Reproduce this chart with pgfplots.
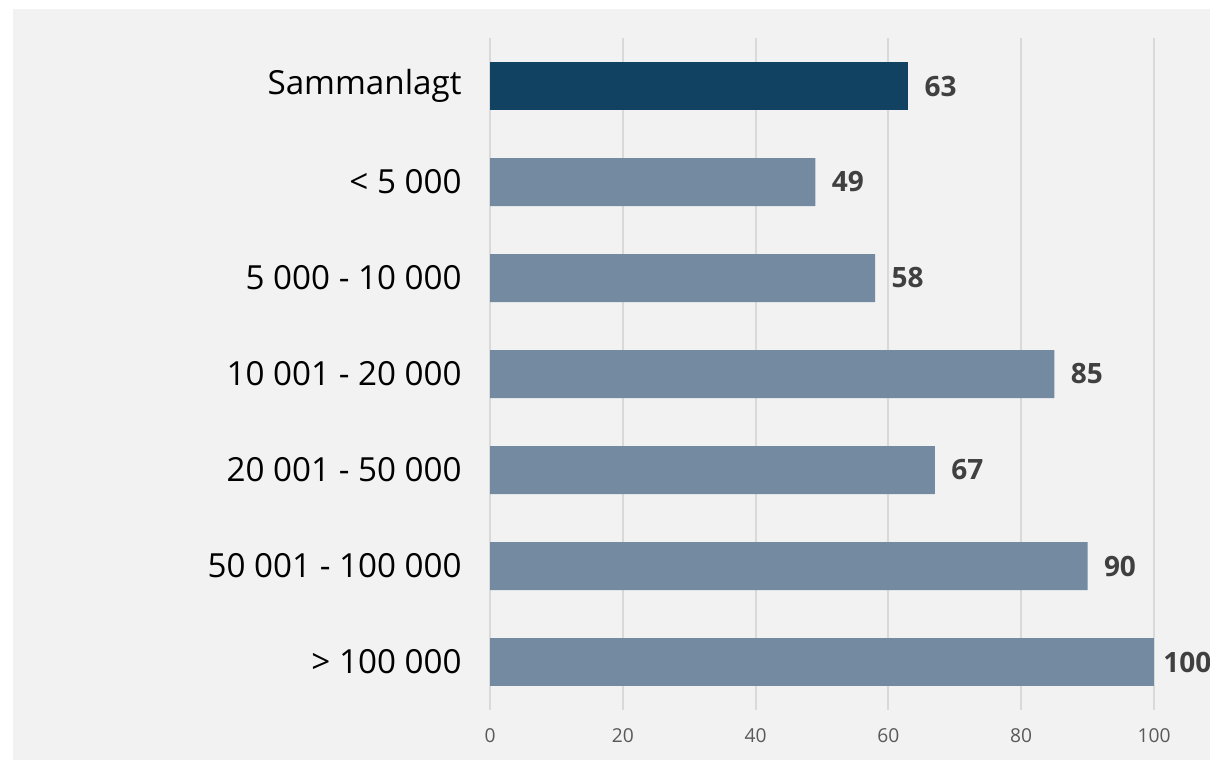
\documentclass[border=0pt]{standalone}
\usepackage{pgfplots}
\pgfplotsset{compat=1.18}
\usepackage{fontspec}
\setmainfont{Open Sans}
\definecolor{bgc}{HTML}{F2F2F2}
\definecolor{bardark}{HTML}{124261}
\definecolor{barlight}{HTML}{738AA0}
\definecolor{gridc}{HTML}{D9D9D9}
\definecolor{valc}{HTML}{404040}
\definecolor{tickc}{HTML}{595959}

\begin{document}
\begin{tikzpicture}
\useasboundingbox (0,0) rectangle (605pt,-380pt);
\clip (0,0) rectangle (605pt,-380pt);
\fill[bgc] (6.5pt,-4.5pt) rectangle (605pt,-380pt);
\begin{axis}[
    at={(245pt,-19pt)}, anchor=north west,
    scale only axis, width=332pt, height=336pt,
    xbar, bar width=24pt,
    xmin=0, xmax=100, ymin=-0.5, ymax=6.5, y dir=reverse,
    xtick={0,20,...,100}, ytick={0,...,6},
    yticklabels={Sammanlagt, {< 5 000}, {5 000 - 10 000}, {10 001 - 20 000},
                 {20 001 - 50 000}, {50 001 - 100 000}, {> 100 000}},
    /pgf/number format/assume math mode=true,
    axis line style={draw=none},
    major tick length=0pt,
    xmajorgrids, grid style={gridc, line width=1pt},
    y tick label style={font=\fontsize{16.6}{20}\selectfont, text=black,
                        anchor=east, inner sep=0pt, xshift=-14pt},
    x tick label style={font=\fontsize{9.6}{12}\selectfont, text=tickc,
                        anchor=north, inner sep=0pt, yshift=-9pt},
    nodes near coords,
    nodes near coords style={font=\fontsize{14}{17}\selectfont\bfseries,
                             text=valc, anchor=west, inner sep=0pt, xshift=8pt},
]
\addplot[fill=bardark, draw=none, bar shift=0pt] coordinates {(63,0)};
\addplot[fill=barlight, draw=none, bar shift=0pt]
    coordinates {(49,1) (58,2) (85,3) (67,4) (90,5)};
% last label sits closer to its bar (it runs into the edge)
\addplot[fill=barlight, draw=none, bar shift=0pt,
    every node near coord/.append style={xshift=-3.5pt}]
    coordinates {(100,6)};
\end{axis}
\end{tikzpicture}
\end{document}
